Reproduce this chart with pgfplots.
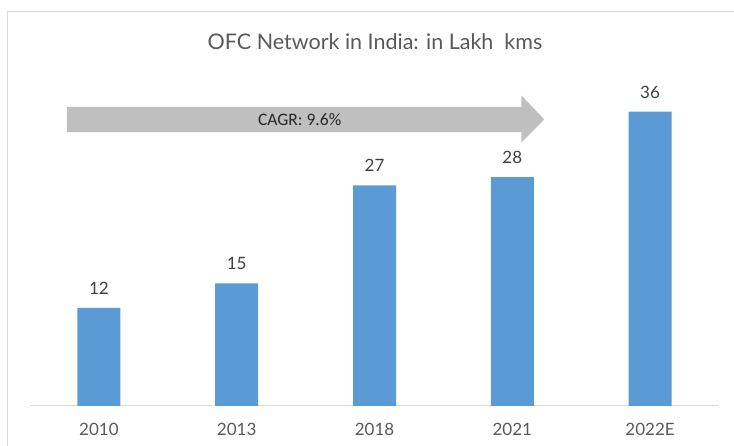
\documentclass[border=0pt]{standalone}
\usepackage{pgfplots}
\pgfplotsset{compat=1.18}
\usepackage{fontspec}
\setmainfont{Lato}
\newfontfamily\calfont{Carlito}
\definecolor{barblue}{HTML}{5B9BD5}
\definecolor{framegray}{HTML}{D9D9D9}
\definecolor{arrowgray}{HTML}{BFBFBF}
\definecolor{txtgray}{HTML}{595959}
\definecolor{lblgray}{HTML}{404040}
\begin{document}
\begin{tikzpicture}
\useasboundingbox (0,0) rectangle (734pt,446pt);
\draw[color=framegray, line width=1pt] (7pt,0) -- (7pt,434pt) -- (734pt,434pt);
\node[font=\fontsize{21.5}{26}\selectfont, text=txtgray] at (375pt,404pt) {OFC Network in India: in Lakh\ \ kms};
\begin{axis}[at={(30pt,40pt)}, anchor=south west, scale only axis,
  width=689pt, height=327pt,
  xmin=-0.5, xmax=4.5, ymin=0, ymax=40,
  axis x line*=bottom, axis y line=none,
  xtick=data, xticklabels={2010,2013,2018,2021,2022E},
  major tick length=0pt,
  /pgf/number format/assume math mode=true,
  x axis line style={color=framegray, line width=1pt, -},
  xticklabel style={font=\fontsize{17}{20}\selectfont, text=txtgray, yshift=-14pt},
  ybar, bar width=43pt,
  nodes near coords,
  nodes near coords style={font=\fontsize{17}{20}\selectfont, text=lblgray, yshift=10pt},
  clip=false]
\fill[arrowgray] (axis cs:-0.232,33.5) -- (axis cs:3.065,33.5) -- (axis cs:3.065,32.2) -- (axis cs:3.232,35.05) -- (axis cs:3.065,38.0) -- (axis cs:3.065,36.6) -- (axis cs:-0.232,36.6) -- cycle;
\node[font=\calfont\fontsize{17.5}{20}\selectfont, text=black!85] at (axis cs:1.457,35.05) {CAGR: 9.6\%};
\addplot[fill=barblue, draw=none] coordinates {(0,12) (1,15) (2,27) (3,28) (4,36)};
\end{axis}
\end{tikzpicture}
\end{document}
